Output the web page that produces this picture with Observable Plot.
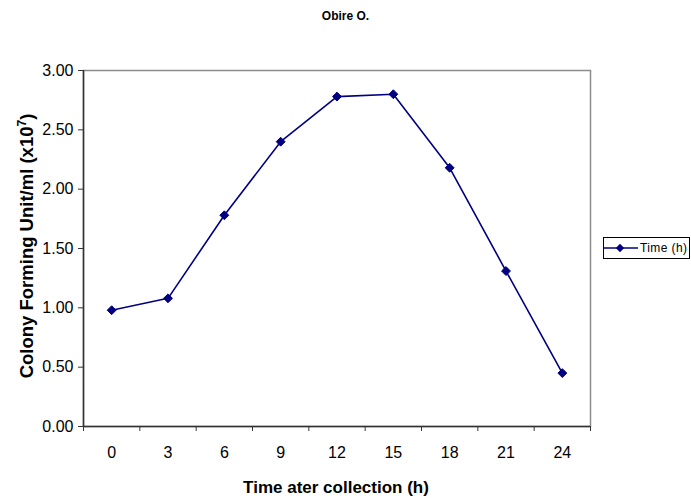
<!DOCTYPE html>
<html>
<head>
<meta charset="utf-8">
<script src="https://cdn.jsdelivr.net/npm/d3@7"></script>
<script src="https://cdn.jsdelivr.net/npm/@observablehq/plot@0.6"></script>
<style>
  body { margin: 0; background: #fff; font-family: "Liberation Sans", Arial, sans-serif; }
  #wrap { position: relative; width: 691px; height: 498px; }
  #title { position: absolute; left: 0; width: 691px; top: 9px; text-align: center; font-weight: bold; font-size: 12px; line-height: 14px; color: #000; }
  #legend { position: absolute; left: 603px; top: 237px; width: 87px; height: 22px; border: 1px solid #000; box-sizing: border-box; background: #fff; font-size: 12px; display: flex; align-items: center; }
</style>
</head>
<body>
<div id="wrap">
  <div id="chart"></div>
  <div id="title">Obire O.</div>
  <div id="legend"></div>
</div>
<script>
const times = [0, 3, 6, 9, 12, 15, 18, 21, 24];
const cfu = [0.98, 1.08, 1.78, 2.40, 2.78, 2.80, 2.18, 1.31, 0.45];
const yTicks = [0, 0.5, 1.0, 1.5, 2.0, 2.5, 3.0];
const xLabel = "Time ater collection (h)";
const yLabelMain = "Colony Forming Unit/ml (x10";
const yLabelSup = "7";
const yLabelEnd = ")";
const seriesName = "Time (h)";

const data = times.map((t, i) => ({t, v: cfu[i]}));
const boundaries = times.map(t => t - 1.5).concat([times[times.length - 1] + 1.5]);
const navy = "#000080";

const plot = Plot.plot({
  width: 691,
  height: 498,
  marginLeft: 83,
  marginRight: 101,
  marginTop: 70,
  marginBottom: 72,
  style: { fontFamily: "Liberation Sans, Arial, sans-serif", fontSize: "16px", color: "#000", background: "#fff" },
  x: { domain: [-1.5, 25.5] },
  y: { domain: [0, 3] },
  marks: [
    Plot.frame({ stroke: "#8c8c8c", strokeWidth: 1.5 }),
    Plot.ruleY([0], { stroke: "#333", strokeWidth: 1.5 }),
    Plot.ruleX([-1.5], { stroke: "#333", strokeWidth: 1.5 }),
    Plot.axisY({ ticks: yTicks, tickFormat: d3.format(".2f"), tickSize: 5, tickPadding: 5, label: null, fontSize: 16, stroke: "#333" }),
    Plot.axisX({ ticks: boundaries, tickFormat: () => "", tickSize: 5, label: null, stroke: "#333" }),
    Plot.axisX({ ticks: times, tickFormat: d => String(d), tickSize: 0, tickPadding: 20, label: null, fontSize: 16 }),
    Plot.line(data, { x: "t", y: "v", stroke: navy, strokeWidth: 1.6 }),
    Plot.dot(data, { x: "t", y: "v", symbol: "diamond2", fill: navy, stroke: navy, strokeWidth: 1, r: 4 })
  ]
});

document.getElementById("chart").appendChild(plot);

const svg = d3.select(plot);
svg.append("text")
  .attr("x", 336)
  .attr("y", 493)
  .attr("text-anchor", "middle")
  .attr("font-weight", "bold")
  .attr("font-size", 17)
  .attr("fill", "#000")
  .text(xLabel);

const yl = svg.append("text")
  .attr("transform", "translate(33,246) rotate(-90)")
  .attr("text-anchor", "middle")
  .attr("font-weight", "bold")
  .attr("font-size", 18.5)
  .attr("fill", "#000");
yl.append("tspan").text(yLabelMain);
yl.append("tspan").attr("font-size", 12).attr("dy", -7).text(yLabelSup);
yl.append("tspan").attr("dy", 7).text(yLabelEnd);

// legend
const leg = d3.select("#legend");
const ls = leg.append("svg").attr("width", 35).attr("height", 20).style("flex", "none");
ls.append("line").attr("x1", 0).attr("x2", 34).attr("y1", 10).attr("y2", 10).attr("stroke", navy).attr("stroke-width", 1.6);
ls.append("path").attr("d", d3.symbol(d3.symbolDiamond2, 45)()).attr("transform", "translate(16,10)").attr("fill", navy);
leg.append("span").text(seriesName).style("margin-left", "1px").style("letter-spacing", "0.4px").style("white-space", "nowrap");
</script>
</body>
</html>
